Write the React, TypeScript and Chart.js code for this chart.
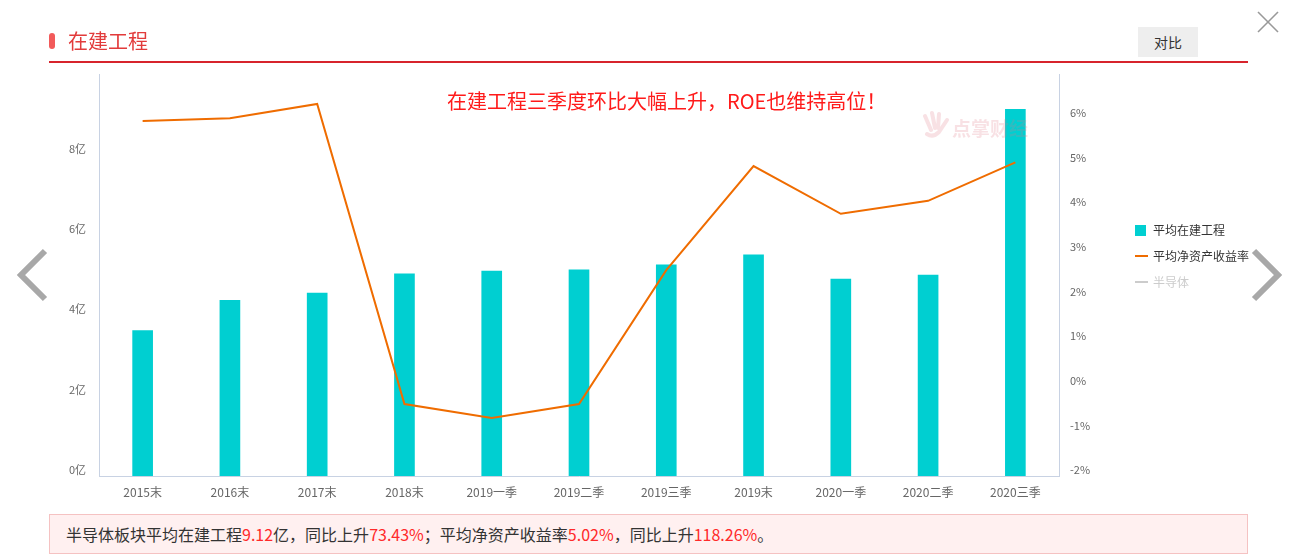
import React, { useEffect, useRef } from "react";
import { Chart, registerables } from "chart.js";

Chart.register(...registerables);

const categories = ["2015末", "2016末", "2017末", "2018末", "2019一季", "2019二季", "2019三季", "2019末", "2020一季", "2020二季", "2020三季"];
const avgConstruction = [3.62, 4.37, 4.55, 5.03, 5.1, 5.13, 5.25, 5.5, 4.9, 5.0, 9.12];
const avgRoe = [5.95, 6.01, 6.33, -0.39, -0.7, -0.39, 2.61, 4.94, 3.87, 4.16, 5.02];
const leftTicks = { min: 0, max: 10, step: 2 };
const rightTicks = { min: -2, max: 7, step: 1 };

const FONT = '"Noto Sans CJK SC", "Noto Sans", sans-serif';

export default function App() {
  const ref = useRef<HTMLCanvasElement | null>(null);

  useEffect(() => {
    document.body.style.margin = "0";
    const canvas = ref.current!;
    const chart = new Chart(canvas, {
      type: "bar",
      data: {
        labels: categories,
        datasets: [
          {
            type: "line",
            label: "平均净资产收益率",
            data: avgRoe,
            yAxisID: "y1",
            borderColor: "#ef6c00",
            backgroundColor: "#ef6c00",
            borderWidth: 2,
            pointRadius: 0,
            tension: 0,
            order: 0,
          } as any,
          {
            type: "bar",
            label: "平均在建工程",
            data: avgConstruction,
            yAxisID: "y",
            backgroundColor: "#00cfd1",
            barThickness: 20,
            order: 1,
          },
        ],
      },
      options: {
        responsive: false,
        animation: false,
        layout: { padding: { top: 74, left: 0, right: 181, bottom: 50 } },
        plugins: { legend: { display: false }, tooltip: { enabled: false } },
        scales: {
          x: {
            grid: { display: false, drawTicks: false },
            border: { display: true, color: "#c8d2e3", width: 1 },
            ticks: { color: "#666", font: { family: FONT, size: 12 }, padding: 9, maxRotation: 0, autoSkip: false },
            afterFit: (s: any) => { s.height = 30; },
          },
          y: {
            position: "left",
            min: leftTicks.min,
            max: leftTicks.max,
            grid: { display: false, drawTicks: false },
            border: { display: true, color: "#c8d2e3", width: 1 },
            ticks: {
              stepSize: leftTicks.step,
              color: "#666",
              font: { family: FONT, size: 11 },
              padding: 13,
              labelOffset: -6,
              callback: (v: any) => (v === leftTicks.max ? null : v + "亿"),
            },
            afterFit: (s: any) => { s.width = 99; },
          },
          y1: {
            position: "right",
            min: rightTicks.min,
            max: rightTicks.max,
            grid: { display: false, drawTicks: false },
            border: { display: true, color: "#c8d2e3", width: 1 },
            ticks: {
              stepSize: rightTicks.step,
              color: "#666",
              font: { family: FONT, size: 11 },
              padding: 11,
              labelOffset: -6,
              callback: (v: any) => (v === rightTicks.max ? null : v + "%"),
            },
            afterFit: (s: any) => { s.width = 60; },
          },
        },
      },
    });
    return () => chart.destroy();
  }, []);

  const arrow = (dir: "left" | "right") => (
    <svg width="34" height="56" style={{ position: "absolute", left: dir === "left" ? 15 : 1250, top: 247 }}>
      <polyline
        points={dir === "left" ? "30,4 6,28 30,52" : "4,4 28,28 4,52"}
        fill="none"
        stroke="#a8a8a8"
        strokeWidth="6"
      />
    </svg>
  );

  return (
    <div style={{ position: "relative", width: 1300, height: 556, overflow: "hidden", fontFamily: FONT, background: "#fff" }}>
      <canvas ref={ref} width={1300} height={556} style={{ position: "absolute", left: 0, top: 0, width: 1300, height: 556 }} />
      {/* header */}
      <div style={{ position: "absolute", left: 49, top: 33, width: 6, height: 16, borderRadius: 3, background: "#f25a5a" }} />
      <div style={{ position: "absolute", left: 68, top: 27, fontSize: 20, lineHeight: "28px", color: "#e23b3b" }}>在建工程</div>
      <div style={{ position: "absolute", left: 49, top: 61, width: 1199, height: 2, background: "#d7242c" }} />
      <div style={{ position: "absolute", left: 1138, top: 27, width: 60, height: 30, background: "#eeeeee", color: "#333", fontSize: 14, lineHeight: "30px", textAlign: "center" }}>对比</div>
      <svg width="22" height="22" style={{ position: "absolute", left: 1257, top: 11 }}>
        <line x1="1" y1="1" x2="21" y2="21" stroke="#999" strokeWidth="1.6" />
        <line x1="21" y1="1" x2="1" y2="21" stroke="#999" strokeWidth="1.6" />
      </svg>
      {/* annotation */}
      <div style={{ position: "absolute", left: 447, top: 87, fontSize: 20, lineHeight: "28px", color: "#ff1a1a", whiteSpace: "nowrap" }}>
        在建工程三季度环比大幅上升，ROE也维持高位！
      </div>
      <svg width="30" height="30" style={{ position: "absolute", left: 921, top: 110 }}>
        <path d="M4 6 L10 20 M11 3 L14 18 M18 4 L17 18 M26 10 L18 22 Q12 28 6 24" fill="none" stroke="rgba(225,120,130,0.22)" strokeWidth="4" strokeLinecap="round" />
      </svg>
      <div style={{ position: "absolute", left: 952, top: 114, fontSize: 19, fontWeight: 700, color: "rgba(225,120,130,0.22)", whiteSpace: "nowrap" }}>点掌财经</div>
      {/* legend */}
      <div style={{ position: "absolute", left: 1135, top: 220, fontSize: 12, color: "#333", lineHeight: "20px" }}>
        <div style={{ position: "relative", height: 20, paddingLeft: 18 }}>
          <span style={{ position: "absolute", left: 0, top: 5, width: 11, height: 11, background: "#00cfd1" }} />
          平均在建工程
        </div>
        <div style={{ position: "relative", height: 20, paddingLeft: 18, marginTop: 6 }}>
          <span style={{ position: "absolute", left: 0, top: 9, width: 13, height: 2, background: "#ef6c00" }} />
          平均净资产收益率
        </div>
        <div style={{ position: "relative", height: 20, paddingLeft: 18, marginTop: 6, color: "#ccc" }}>
          <span style={{ position: "absolute", left: 0, top: 9, width: 13, height: 2, background: "#ccc" }} />
          半导体
        </div>
      </div>
      {arrow("left")}
      {arrow("right")}
      {/* footer */}
      <div style={{ position: "absolute", left: 49, top: 514, width: 1199, height: 40, background: "#fff0f0", border: "1px solid #f5c2c2", fontSize: 16, lineHeight: "38px", color: "#333", paddingLeft: 16, boxSizing: "border-box", whiteSpace: "nowrap" }}>
        半导体板块平均在建工程<span style={{ color: "#ff2a2a" }}>9.12</span>亿，同比上升<span style={{ color: "#ff2a2a" }}>73.43%</span>；平均净资产收益率<span style={{ color: "#ff2a2a" }}>5.02%</span>，同比上升<span style={{ color: "#ff2a2a" }}>118.26%</span>。
      </div>
    </div>
  );
}
